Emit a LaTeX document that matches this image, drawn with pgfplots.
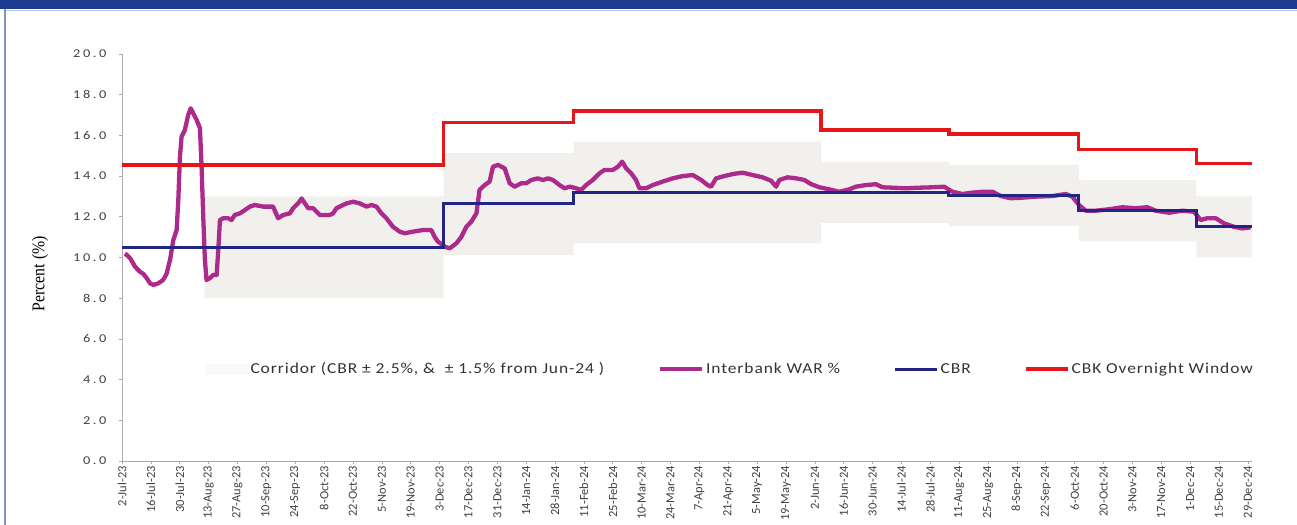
\documentclass[border=0pt]{standalone}
\usepackage{pgfplots}
\pgfplotsset{compat=1.18}
\usepackage{fontspec}
\setmainfont{Carlito}
\newfontfamily\legfont[FakeStretch=1.15,LetterSpace=6]{Carlito}
\newfontfamily\ytfont[LetterSpace=22,FakeStretch=1.2]{Carlito}
\newfontfamily\xtfont{Carlito}
\newfontfamily\ylfont[FakeStretch=0.88]{Liberation Serif}
\definecolor{bandc}{RGB}{242,240,237}
\definecolor{warc}{RGB}{172,42,140}
\definecolor{cbrc}{RGB}{36,36,132}
\definecolor{ovc}{RGB}{230,22,24}
\definecolor{framec}{RGB}{28,58,143}
\definecolor{axc}{RGB}{170,170,170}
\begin{document}
\begin{tikzpicture}
\path[use as bounding box] (0bp,0bp) rectangle (1297bp,525bp);
\fill[framec] (0bp,516bp) rectangle (1297bp,525bp);
\draw[color=framec!30, line width=1bp] (6bp,514.5bp) -- (1297bp,514.5bp);
\draw[color=framec!55, line width=1.6bp] (5bp,0bp) -- (5bp,516bp);
\begin{axis}[
  at={(122bp,64bp)}, anchor=south west,
  scale only axis, width=1130bp, height=407bp,
  xmin=0, xmax=548, ymin=0, ymax=20,
  axis lines*=left,
  axis line style={draw=axc, line width=0.8bp},
  every tick/.style={draw=axc, line width=0.6bp},
  tick align=outside, major tick length=3bp,
  ytick={0,2,...,20},
  xtick={0,14,...,546},
  xticklabels={2-Jul-23,16-Jul-23,30-Jul-23,13-Aug-23,27-Aug-23,10-Sep-23,24-Sep-23,8-Oct-23,22-Oct-23,5-Nov-23,19-Nov-23,3-Dec-23,17-Dec-23,31-Dec-23,14-Jan-24,28-Jan-24,11-Feb-24,25-Feb-24,10-Mar-24,24-Mar-24,7-Apr-24,21-Apr-24,5-May-24,19-May-24,2-Jun-24,16-Jun-24,30-Jun-24,14-Jul-24,28-Jul-24,11-Aug-24,25-Aug-24,8-Sep-24,22-Sep-24,6-Oct-24,20-Oct-24,3-Nov-24,17-Nov-24,1-Dec-24,15-Dec-24,29-Dec-24},
  xticklabel style={rotate=90, anchor=east, font=\xtfont\fontsize{12.5}{13}\selectfont, text=black!75, inner sep=2bp},
  yticklabel style={font=\ytfont\fontsize{12}{13}\selectfont, text=black!75, xshift=-9bp},
  /pgf/number format/assume math mode=true,
  y tick label style={/pgf/number format/.cd, fixed, fixed zerofill, precision=1},
  ylabel={Percent (\%)},
  ylabel style={font=\ylfont\fontsize{18}{19}\selectfont, at={(axis description cs:-0.0726,0.46)}, anchor=center},
  legend columns=4,
  legend style={at={(axis cs:40.7,4.52)}, anchor=west, draw=none, fill=none, inner sep=0pt,
    font=\legfont\fontsize{15.25}{16}\selectfont, text=black!80,
    /tikz/every even column/.append style={column sep=51.5bp},
    /tikz/every odd column/.append style={column sep=0bp}},
  legend cell align=left,
  legend image code/.code={\draw[#1] (0bp,0bp) -- (42bp,0bp);},
]
% corridor band
\addplot[fill=bandc, draw=none, forget plot] coordinates {
(40,13.0) (156,13.0) (156,15.13) (219,15.13) (219,15.7) (339,15.7) (339,14.7) (401,14.7) (401,14.55) (464,14.55) (464,13.8) (521,13.8) (521,13.0) (548,13.0)
(548,10.0) (521,10.0) (521,10.8) (464,10.8) (464,11.55) (401,11.55) (401,11.7) (339,11.7) (339,10.7) (219,10.7) (219,10.13) (156,10.13) (156,8.0) (40,8.0)};
\addlegendimage{legend image code/.code={\fill[bandc!40] (0bp,-5bp) rectangle (42bp,5bp);}}
\addlegendentry{Corridor (CBR ± 2.5\%, \&\ \ ± 1.5\% from Jun-24 )}
% interbank
\addplot[color=warc, line width=4.3bp, line join=round] coordinates {
(1.5,10.2) (3.9,9.97) (6.3,9.55) (8.7,9.3) (10.3,9.2) (12,8.98) (13.6,8.73) (15.2,8.65) (17.6,8.73) (20,8.9) (21.6,9.2) (23.3,9.88) (24.9,10.86) (26.5,11.35) (27.3,12.8) (28.1,14.95) (28.9,15.94) (30.5,16.27) (32.1,17.0) (33.3,17.33) (34.5,17.09) (36.2,16.76) (37.8,16.35) (38.6,14.46) (39.4,12.0) (40.2,9.88) (41,8.9) (42.6,8.98) (44.2,9.14) (45.9,9.14) (46.7,10.37) (47.5,11.84) (49.1,11.93) (51.5,11.93) (53.1,11.84) (54.7,12.09) (57.2,12.17) (59.6,12.33) (62,12.5) (64.4,12.58) (68.5,12.5) (73.3,12.5) (75.7,11.93) (78.2,12.09) (81.4,12.17) (83,12.42) (85.4,12.66) (87.1,12.9) (88.7,12.66) (90.3,12.42) (92.7,12.42) (95.9,12.09) (100.8,12.09) (102.4,12.17) (104,12.42) (107.2,12.58) (108.9,12.66) (112.1,12.74) (115.3,12.66) (118.5,12.5) (121,12.58) (123.4,12.5) (125.8,12.17) (128.2,11.93) (131.4,11.51) (134.7,11.27) (137.1,11.19) (141.1,11.27) (146,11.35) (150,11.35) (151.6,11.02) (153.2,10.78) (155.7,10.61) (156.5,10.53) (158.9,10.45) (162.2,10.7) (164.6,11.02) (167,11.51) (169.4,11.76) (171.9,12.17) (173.4,13.32) (175.9,13.56) (178.3,13.73) (179.9,14.46) (182.3,14.55) (185.6,14.38) (188,13.65) (190.4,13.48) (193.7,13.65) (196.1,13.65) (198.5,13.81) (201.7,13.89) (204.1,13.81) (206.6,13.89) (209,13.81) (212.2,13.56) (214.6,13.4) (217.1,13.48) (220.3,13.4) (222.7,13.32) (225.1,13.56) (228.3,13.81) (231.6,14.14) (234,14.3) (238,14.3) (240.5,14.46) (242.6,14.71) (244.5,14.38) (246.9,14.14) (249.3,13.81) (250.9,13.4) (254.2,13.4) (257.4,13.56) (262.2,13.73) (267.1,13.89) (271.9,14.0) (276.8,14.05) (280.9,13.81) (284,13.56) (285.7,13.48) (288.1,13.89) (292.1,14.0) (296.2,14.1) (301,14.17) (305.9,14.05) (310.7,13.94) (314.8,13.77) (317.2,13.48) (318.8,13.81) (322.8,13.94) (326.9,13.89) (330.9,13.81) (334.1,13.61) (338.2,13.45) (343,13.35) (347.9,13.23) (352.7,13.35) (355.9,13.48) (360.8,13.56) (365.6,13.6) (368.8,13.45) (373.7,13.43) (380.2,13.4) (386.6,13.43) (393.1,13.45) (398.7,13.48) (402.8,13.23) (407.6,13.12) (412.5,13.19) (417.3,13.23) (422.2,13.23) (426.2,13.02) (431,12.91) (436.7,12.94) (443.2,12.99) (451.2,13.02) (457.7,13.12) (460.9,12.99) (464.1,12.58) (467.4,12.3) (472.2,12.3) (478.7,12.37) (485.1,12.47) (491.6,12.42) (497.2,12.47) (501.3,12.3) (507.8,12.2) (514.2,12.3) (519.9,12.25) (523.1,11.84) (526.3,11.93) (530.4,11.93) (534.4,11.68) (539.2,11.51) (543.3,11.43) (547.3,11.48)};
\addlegendentry{Interbank WAR \%}
% CBR
\addplot[color=cbrc, line width=3bp, const plot] coordinates {
(0,10.5) (156,12.63) (219,13.2) (401,13.05) (464,12.3) (521,11.5) (548,11.5)};
\addlegendentry{CBR}
% overnight window
\addplot[color=ovc, line width=3.3bp, const plot] coordinates {
(0,14.55) (156,16.64) (219,17.2) (339,16.27) (401,16.07) (464,15.32) (521,14.63) (548,14.63)};
\addlegendentry{CBK Overnight Window}
\end{axis}
\end{tikzpicture}
\end{document}
